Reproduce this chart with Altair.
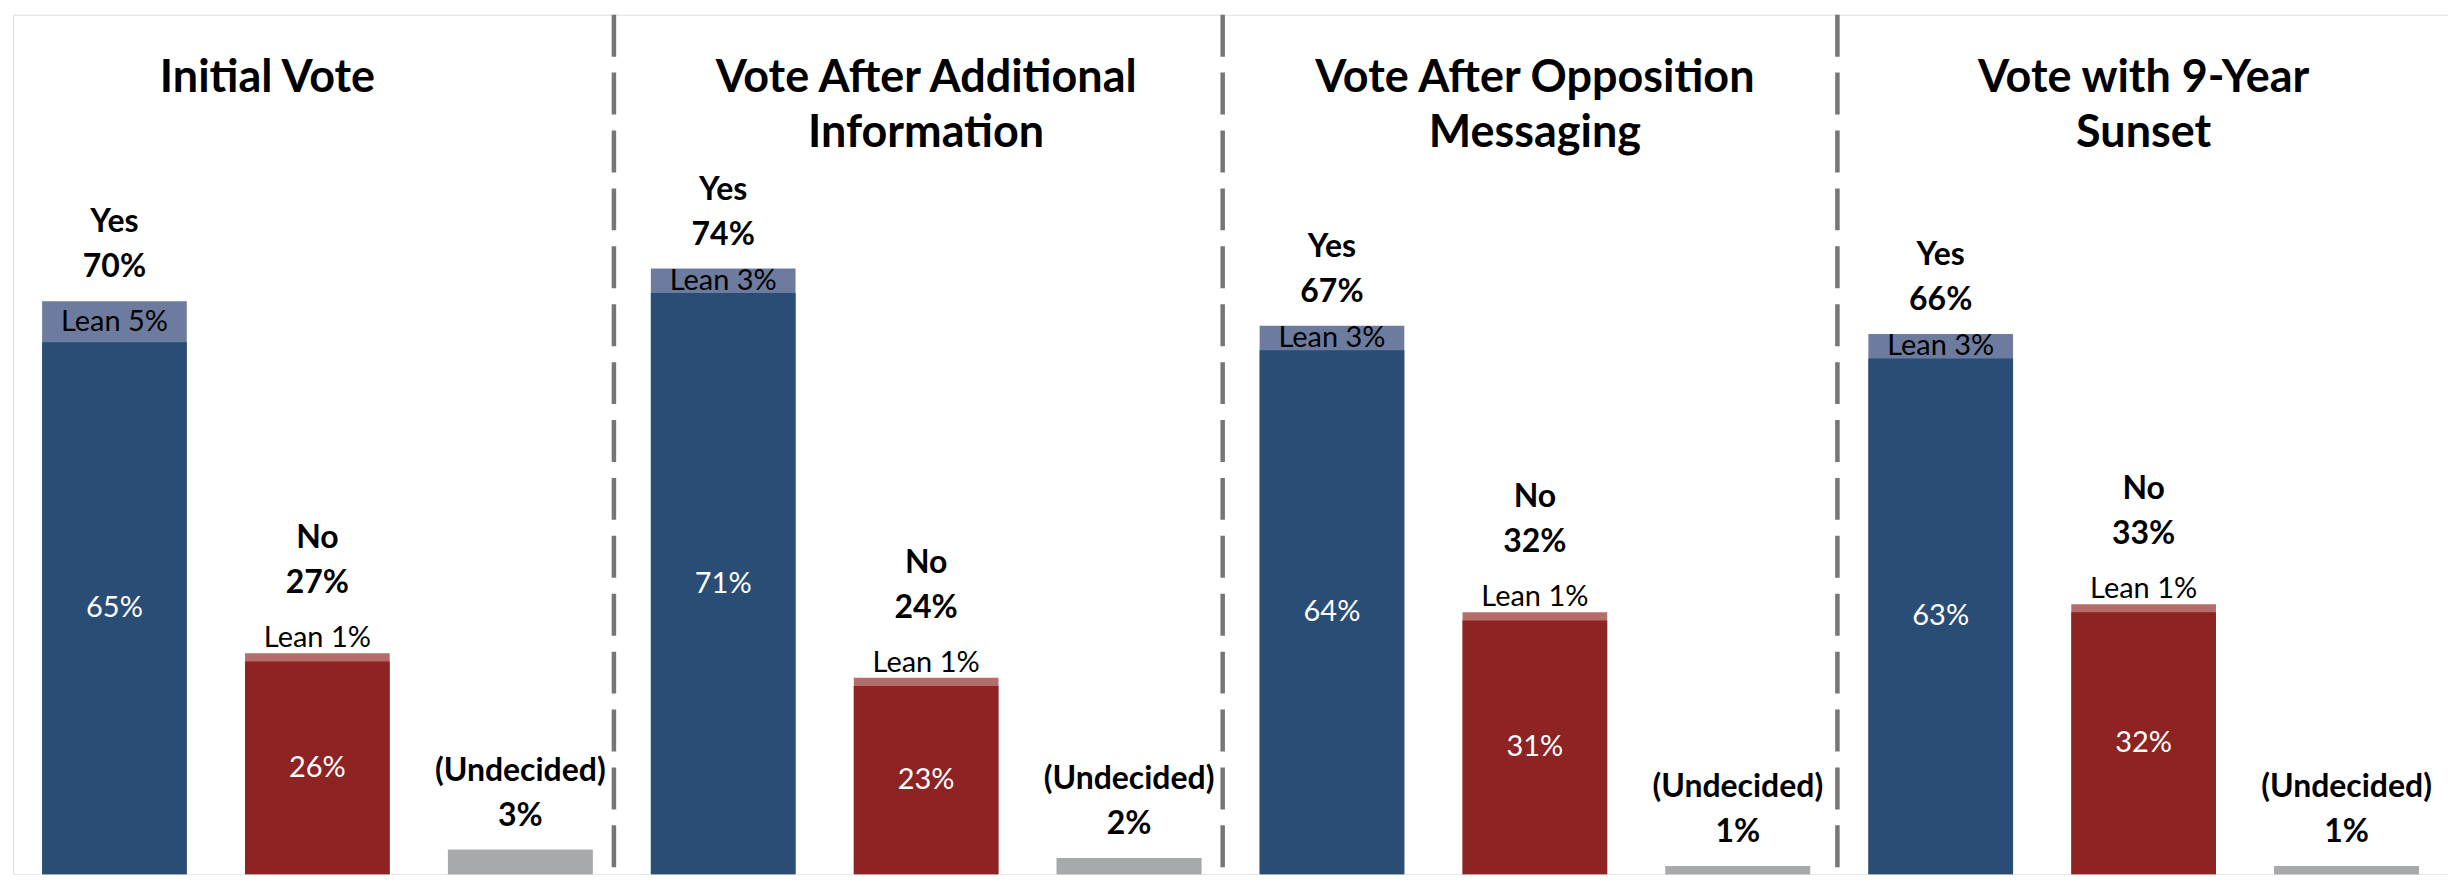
import altair as alt
import pandas as pd

# ---- data ----
panels = ["Initial Vote", "Vote After Additional Information",
          "Vote After Opposition Messaging", "Vote with 9-Year Sunset"]
title_line1 = ["Initial Vote", "Vote After Additional", "Vote After Opposition", "Vote with 9-Year"]
title_line2 = ["", "Information", "Messaging", "Sunset"]
categories = ["Yes", "No", "(Undecided)"]
yes_total = [70, 74, 67, 66]
yes_solid = [65, 71, 64, 63]
yes_lean = [5, 3, 3, 3]
no_total = [27, 24, 32, 33]
no_solid = [26, 23, 31, 32]
no_lean = [1, 1, 1, 1]
undecided = [3, 2, 1, 1]

# ---- styles ----
SOLID = {"Yes": "#2A4D75", "No": "#8E2323", "(Undecided)": "#A8A9AC"}
LEAN = {"Yes": "#6D7C9E", "No": "#B46D69", "(Undecided)": "#A8A9AC"}
FONT = "Lato"

rows = []
for i, p in enumerate(panels):
    rows.append(dict(slot=f"{i}-Yes", panel=i, cat="Yes", total=yes_total[i],
                     solid=yes_solid[i], lean=yes_lean[i]))
    rows.append(dict(slot=f"{i}-No", panel=i, cat="No", total=no_total[i],
                     solid=no_solid[i], lean=no_lean[i]))
    rows.append(dict(slot=f"{i}-Und", panel=i, cat="(Undecided)", total=undecided[i],
                     solid=undecided[i], lean=0))
df = pd.DataFrame(rows)
df["num_label"] = df["total"].astype(str) + "%"
df["solid_label"] = df["solid"].astype(str) + "%"
df["lean_label"] = "Lean " + df["lean"].astype(str) + "%"
df["solid_color"] = df["cat"].map(SOLID)
df["lean_color"] = df["cat"].map(LEAN)
df["mid_solid"] = df["solid"] / 2
df["mid_lean"] = (df["total"] + df["solid"]) / 2
slot_order = list(df["slot"])

titles = pd.DataFrame({
    "slot": [f"{i}-No" for i in range(len(panels))],
    "panel": list(range(len(panels))),
    "line1": title_line1,
    "line2": title_line2,
})
seps = pd.DataFrame({"slot": [f"{i}-Yes" for i in range(1, len(panels))],
                     "idx": list(range(1, len(panels)))})

x_scale = alt.Scale(paddingInner=0.287, paddingOuter=0.1435)
x_enc = alt.X("slot:N", sort=slot_order, scale=x_scale,
              axis=alt.Axis(title=None, labels=False, domainColor="#808080",
                            domainWidth=2.5, tickColor="#808080", tickWidth=2,
                            tickSize=9, tickBand="extent", grid=False))
y_scale = alt.Scale(domain=[0, 105])

base = alt.Chart(df).encode(x=x_enc)

bar_total = base.mark_bar().encode(
    y=alt.Y("total:Q", scale=y_scale, axis=None),
    color=alt.Color("lean_color:N", scale=None))
bar_solid = base.mark_bar().encode(
    y=alt.Y("solid:Q", scale=y_scale, axis=None),
    color=alt.Color("solid_color:N", scale=None))

inner = base.transform_filter("datum.cat != '(Undecided)'").mark_text(
    font=FONT, fontSize=29, color="white", baseline="middle").encode(
    y=alt.Y("mid_solid:Q", scale=y_scale, axis=None), text="solid_label:N")

lean_yes = base.transform_filter("datum.cat == 'Yes'").mark_text(
    font=FONT, fontSize=29, color="black", baseline="middle").encode(
    y=alt.Y("mid_lean:Q", scale=y_scale, axis=None), text="lean_label:N")
lean_no = base.transform_filter("datum.cat == 'No'").mark_text(
    font=FONT, fontSize=29, color="black", baseline="middle", dy=-15).encode(
    y=alt.Y("total:Q", scale=y_scale, axis=None), text="lean_label:N")

num_a = base.transform_filter("datum.cat != 'No'").mark_text(
    font=FONT, fontSize=32, fontWeight="bold", color="black", baseline="middle", dy=-34).encode(
    y=alt.Y("total:Q", scale=y_scale, axis=None), text="num_label:N")
num_b = base.transform_filter("datum.cat == 'No'").mark_text(
    font=FONT, fontSize=32, fontWeight="bold", color="black", baseline="middle", dy=-70).encode(
    y=alt.Y("total:Q", scale=y_scale, axis=None), text="num_label:N")
cat_a = base.transform_filter("datum.cat != 'No'").mark_text(
    font=FONT, fontSize=32, fontWeight="bold", color="black", baseline="middle", dy=-79).encode(
    y=alt.Y("total:Q", scale=y_scale, axis=None), text="cat:N")
cat_b = base.transform_filter("datum.cat == 'No'").mark_text(
    font=FONT, fontSize=32, fontWeight="bold", color="black", baseline="middle", dy=-115).encode(
    y=alt.Y("total:Q", scale=y_scale, axis=None), text="cat:N")

tbase = alt.Chart(titles).encode(x=x_enc)
title_first = tbase.transform_filter("datum.panel == 0").mark_text(
    font=FONT, fontSize=45, fontWeight="bold", color="black", baseline="middle", dx=-50).encode(
    y=alt.value(63), text="line1:N")
title_rest1 = tbase.transform_filter("datum.panel != 0").mark_text(
    font=FONT, fontSize=45, fontWeight="bold", color="black", baseline="middle").encode(
    y=alt.value(63), text="line1:N")
title_rest2 = tbase.transform_filter("datum.panel != 0").mark_text(
    font=FONT, fontSize=45, fontWeight="bold", color="black", baseline="middle").encode(
    y=alt.value(119), text="line2:N")

sep_x = alt.X("slot:N", sort=slot_order, bandPosition=0, scale=x_scale, axis=None)
sep_a = alt.Chart(seps).transform_filter("datum.idx < 3").mark_rule(
    color="#76767A", strokeWidth=4.5, strokeDash=[42, 16], xOffset=-37).encode(
    x=sep_x, y=alt.value(0), y2=alt.value(856))
sep_b = alt.Chart(seps).transform_filter("datum.idx == 3").mark_rule(
    color="#76767A", strokeWidth=4.5, strokeDash=[42, 16], xOffset=-31).encode(
    x=sep_x, y=alt.value(0), y2=alt.value(856))

chart = alt.layer(
    bar_total, bar_solid, inner, lean_yes, lean_no, num_a, num_b, cat_a, cat_b,
    title_first, title_rest1, title_rest2, sep_a, sep_b
).properties(
    width=2439, height=861,
    padding={"left": 5, "top": 3, "right": 0, "bottom": 0},
).configure_view(stroke=None).configure(background="white")

chart.save("out.html", embed_options={"renderer": "svg", "actions": False})
